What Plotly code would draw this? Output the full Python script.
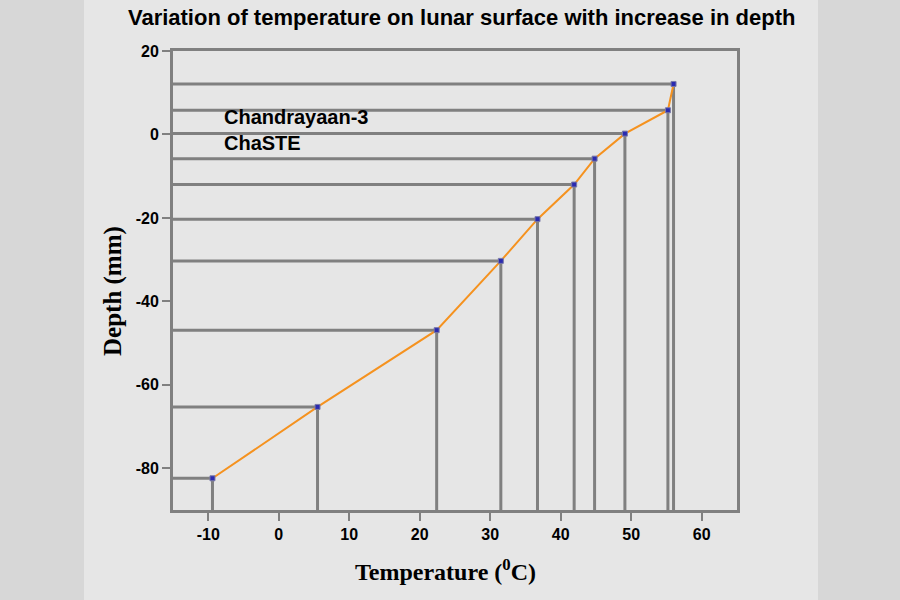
import plotly.graph_objects as go

# Data
temperature = [-9.4, 5.5, 22.4, 31.5, 36.7, 41.9, 44.8, 49.1, 55.2, 56.0]
depth = [-82.4, -65.3, -46.9, -30.3, -20.3, -12.0, -5.8, 0.2, 5.8, 12.1]
x_ticks = [-10, 0, 10, 20, 30, 40, 50, 60]
y_ticks = [-80, -60, -40, -20, 0, 20]
x_range = [-15, 65]
y_range = [-90, 20]

GRAY = "#808080"
ORANGE = "#f5921f"

# guide lines: horizontal from left edge to point, vertical from point down to bottom
gx, gy = [], []
for t, d in zip(temperature, depth):
    gx += [x_range[0], t, t, None]
    gy += [d, d, y_range[0], None]

fig = go.Figure()
fig.add_trace(go.Scatter(x=gx, y=gy, mode="lines",
                         line=dict(color=GRAY, width=3),
                         hoverinfo="skip", showlegend=False))
fig.add_trace(go.Scatter(x=temperature, y=depth, mode="lines+markers",
                         line=dict(color=ORANGE, width=2),
                         marker=dict(symbol="square", size=5, color="#2a2ab0",
                                     line=dict(color="#7a7aa8", width=1)),
                         showlegend=False))

axis_common = dict(showline=True, mirror=True, linewidth=3, linecolor=GRAY,
                   showgrid=False, zeroline=False, ticks="outside", ticklen=8,
                   tickwidth=2, tickcolor=GRAY,
                   tickfont=dict(family="Liberation Sans", size=16, color="black",
                                 weight="bold"))

fig.update_xaxes(range=x_range, tickvals=x_ticks, ticktext=[str(v) for v in x_ticks],
                 **axis_common)
fig.update_yaxes(range=y_range, tickvals=y_ticks, ticktext=[str(v) for v in y_ticks],
                 **axis_common)

fig.update_layout(
    width=900, height=600,
    margin=dict(l=173, r=163, t=51, b=90),
    paper_bgcolor="#d7d7d7",
    plot_bgcolor="#e6e6e6",
    title=dict(text="Variation of temperature on lunar surface with increase in depth",
               font=dict(family="Liberation Sans", size=22, color="black", weight="bold"),
               xref="container", x=0.513, xanchor="center",
               yref="container", y=0.972, yanchor="middle"),
    shapes=[dict(type="rect", xref="paper", yref="paper",
                 x0=(84 - 173) / 564, x1=(818 - 173) / 564,
                 y0=-90 / 459 - 0.01, y1=1 + 51 / 459 + 0.01,
                 fillcolor="#e6e6e6", line=dict(width=0), layer="below")],
    annotations=[
        dict(text="Chandrayaan-3<br>ChaSTE", xref="paper", yref="paper",
             x=(222 - 173) / 564, y=(510 - 130) / 459, xanchor="left", yanchor="middle",
             align="left", showarrow=False,
             font=dict(family="Liberation Sans", size=20, color="black", weight="bold")),
        dict(text="Depth (mm)", xref="paper", yref="paper",
             x=(113 - 173) / 564, y=(510 - 291) / 459, xanchor="center", yanchor="middle",
             textangle=-90, showarrow=False,
             font=dict(family="Liberation Serif", size=25, color="black", weight="bold")),
        dict(text="Temperature (<sup>0</sup>C)", xref="paper", yref="paper",
             x=(445 - 173) / 564, y=(510 - 570) / 459, xanchor="center", yanchor="middle",
             showarrow=False,
             font=dict(family="Liberation Serif", size=24, color="black", weight="bold")),
    ],
)

fig.write_html("out.html")
